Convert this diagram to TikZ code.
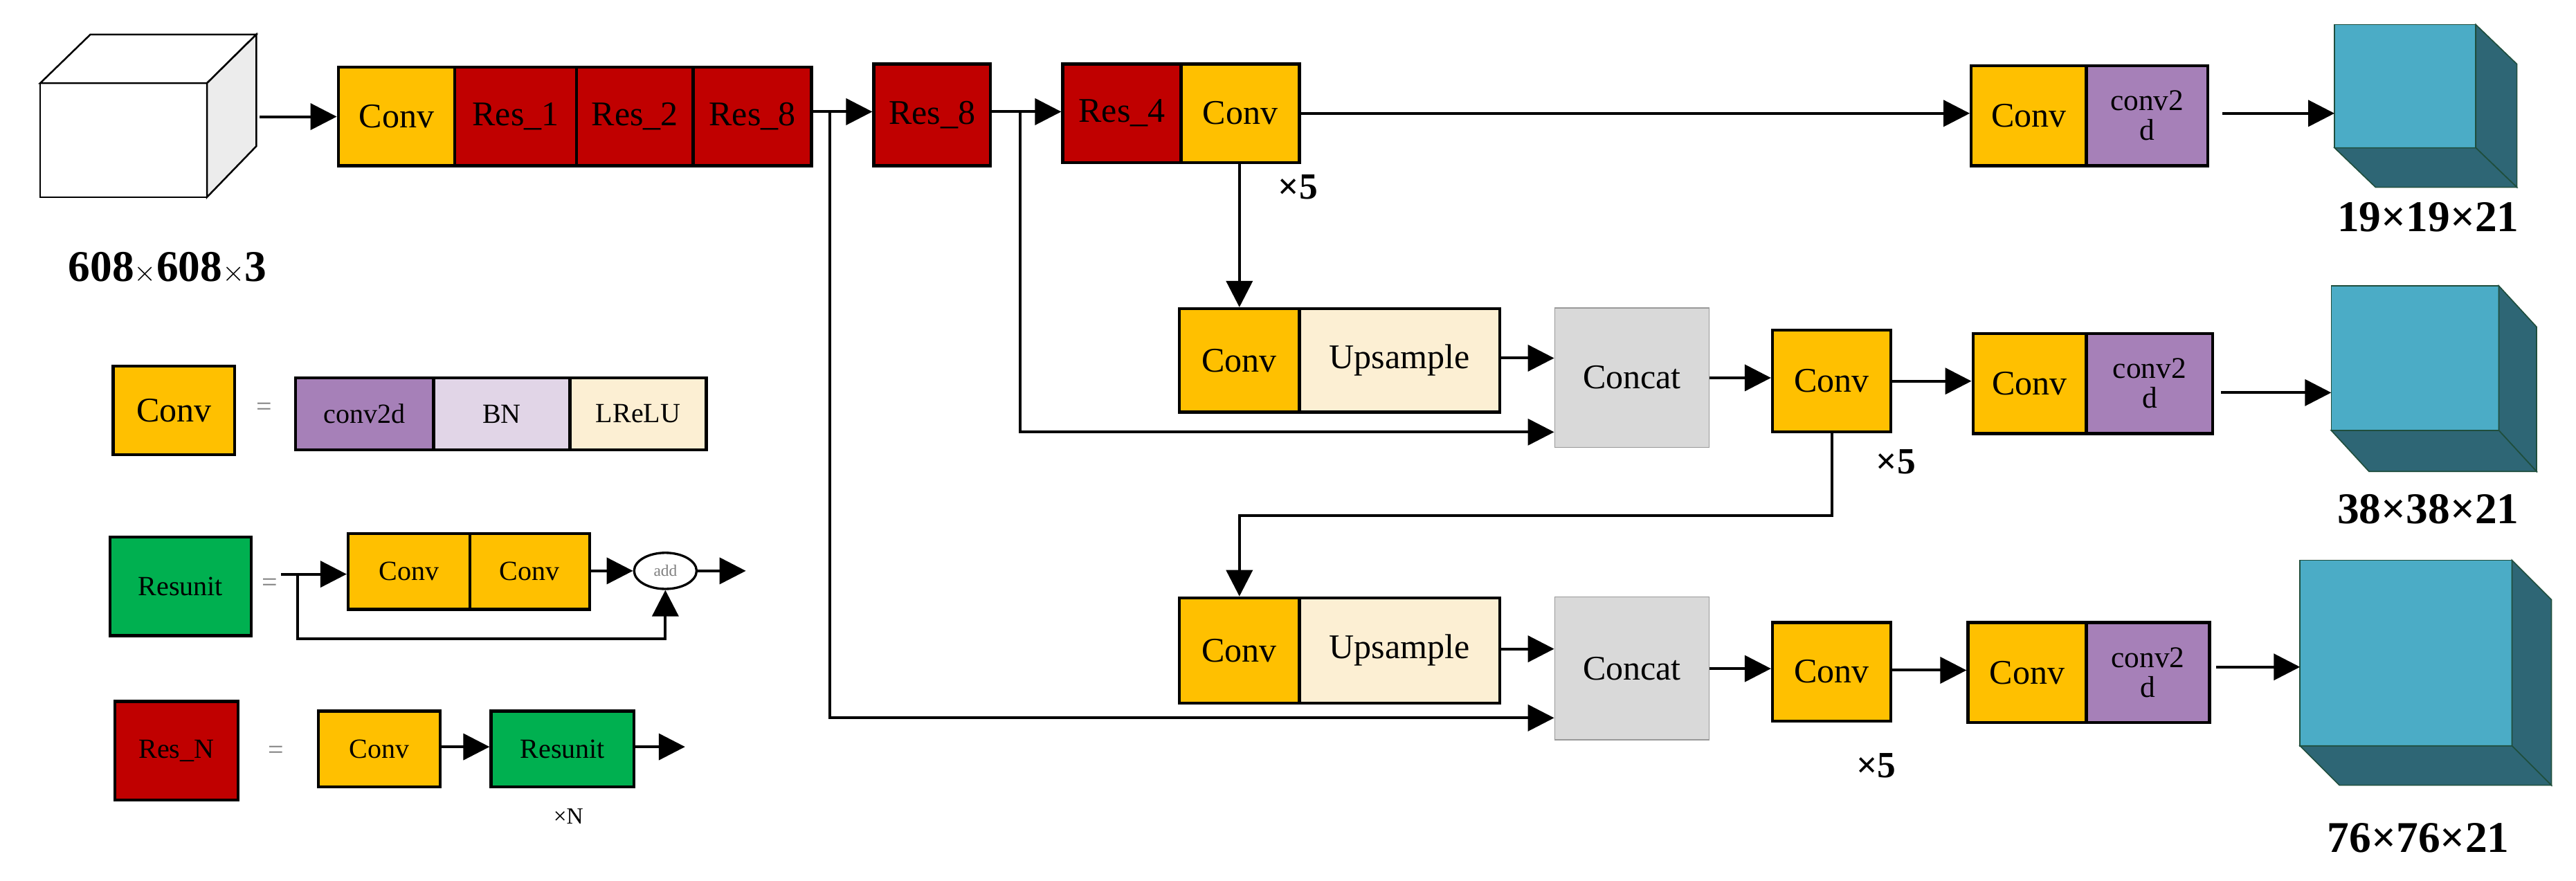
\documentclass[tikz,border=0pt]{standalone}
\usepackage{fontspec}
\setmainfont{Liberation Serif}
\usetikzlibrary{arrows.meta,shapes.geometric}
\definecolor{cConv}{HTML}{FFC000}
\definecolor{cRes}{HTML}{C00000}
\definecolor{cGreen}{HTML}{00B050}
\definecolor{cPur}{HTML}{A680B8}
\definecolor{cBN}{HTML}{E1D5E7}
\definecolor{cLR}{HTML}{FCEFD3}
\definecolor{cCat}{HTML}{D9D9D9}
\definecolor{cCube}{HTML}{4BACC6}
\definecolor{cCubeD}{HTML}{2E6675}
\definecolor{cEdge}{HTML}{1F4E3D}
\begin{document}
\begin{tikzpicture}[x=0.5mm,y=-0.5mm,
  rect/.style n args={4}{anchor=north west, at={(#1,#2)}, minimum width=#3*0.5mm, minimum height=#4*0.5mm},
  blk/.style={draw, line width=2.6pt, inner sep=0pt, font=\fontsize{30}{32}\selectfont},
  small/.style={font=\fontsize{24}{26}\selectfont},
  two/.style={align=center, font=\fontsize{26}{26}\selectfont},
  arr/.style={line width=2.4pt, -{Triangle[length=8mm,width=8mm]}},
  ln/.style={line width=2.4pt},
  lab/.style={font=\bfseries\fontsize{38}{40}\selectfont},
  times/.style={font=\bfseries\fontsize{32}{34}\selectfont},
  cube/.style={draw=cEdge, line width=1pt}]
\useasboundingbox (0,0) rectangle (1568,536);
% input cube
\draw[line width=1.5pt, fill=white] (24.5,50.6) rectangle (126,120);
\draw[line width=1.5pt, fill=white] (24.5,50.6) -- (55,21) -- (156,21) -- (126,50.6) -- cycle;
\draw[line width=1.5pt, fill=gray!15] (126,50.6) -- (156,21) -- (156,89) -- (126,120) -- cycle;
\coordinate (cin) at (158,71);
\node[lab] (l0) at (102,163) {608$\times$608$\times$3};
% backbone
\node[blk, fill=cConv, rect={205}{40}{71}{60}] (c1) {Conv};
\node[blk, fill=cRes, rect={276}{40}{74}{60}] (r1) {Res\_1};
\node[blk, fill=cRes, rect={350}{40}{71}{60}] (r2) {Res\_2};
\node[blk, fill=cRes, rect={421}{40}{72}{60}] (r8) {Res\_8};
\node[blk, fill=cRes, rect={531}{38}{71}{62}] (r8b) {Res\_8};
\node[blk, fill=cRes, rect={646}{38}{72}{60}] (r4) {Res\_4};
\node[blk, fill=cConv, rect={718}{38}{72}{60}] (ct) {Conv};
\draw[arr] (cin) -- (c1.west |- cin);
\draw[arr] (r8.east |- 0,68) -- (r8b.west |- 0,68);
\draw[arr] (r8b.east |- 0,68) -- (r4.west |- 0,68);
\coordinate (b1) at (505,68);
\coordinate (b2) at (621,68);
% output branch 1
\node[blk, fill=cConv, rect={1199}{39}{70}{61}] (o1a) {Conv};
\node[blk, fill=cPur, rect={1269}{39}{74}{61}, two] (o1b) {conv2\\d};
\draw[arr] (ct.east |- 0,69) -- (o1a.west |- 0,69);
\node[times] (x1) at (790,114) {×5};
% middle branch
\node[blk, fill=cConv, rect={717}{187}{73}{63}] (cu1) {Conv};
\node[blk, fill=cLR, rect={790}{187}{122}{63}] (up1) {Upsample};
\node[blk, draw=gray!80, line width=1pt, fill=cCat, rect={946}{187}{94}{85}] (cat1) {Concat};
\node[blk, fill=cConv, rect={1078}{200}{72}{62}] (m1) {Conv};
\node[blk, fill=cConv, rect={1200}{202}{69}{61}] (o2a) {Conv};
\node[blk, fill=cPur, rect={1269}{202}{77}{61}, two] (o2b) {conv2\\d};
\node[times] (x2) at (1154,281) {×5};
\draw[arr] (ct.south -| cu1.north) -- (cu1.north);
\draw[arr] (up1.east |- 0,218) -- (cat1.west |- 0,218);
\coordinate (k1) at (946,263);
\draw[arr] (b2) |- (k1);
\draw[arr] (cat1.east |- 0,230) -- (m1.west |- 0,230);
\draw[arr] (m1.east |- 0,232) -- (o2a.west |- 0,232);
% bottom branch
\node[blk, fill=cConv, rect={717}{363}{73}{64}] (cu2) {Conv};
\node[blk, fill=cLR, rect={790}{363}{122}{64}] (up2) {Upsample};
\node[blk, draw=gray!80, line width=1pt, fill=cCat, rect={946}{363}{94}{87}] (cat2) {Concat};
\node[blk, fill=cConv, rect={1078}{378}{72}{60}] (m2) {Conv};
\node[blk, fill=cConv, rect={1197}{378}{72}{61}] (o3a) {Conv};
\node[blk, fill=cPur, rect={1269}{378}{75}{61}, two] (o3b) {conv2\\d};
\node[times] (x3) at (1142,466) {×5};
\draw[arr] (m1.south) -- ++(0,50) -| (cu2.north);
\draw[arr] (up2.east |- 0,395) -- (cat2.west |- 0,395);
\coordinate (k2) at (946,437);
\draw[arr] (b1) |- (k2);
\draw[arr] (cat2.east |- 0,407) -- (m2.west |- 0,407);
\draw[arr] (m2.east |- 0,408) -- (o3a.west |- 0,408);
% cubes
\foreach \xa/\ya/\xb/\yb/\dx/\dy/\nm in {1421/15/1507/90/25/24/q1, 1419/174/1521/262/23/25/q2, 1400/341/1529/454/24/24/q3}{
  \fill[cCube, cube] (\xa,\ya) rectangle (\xb,\yb);
  \fill[cCubeD, cube] (\xb,\ya) -- (\xb+\dx,\ya+\dy) -- (\xb+\dx,\yb+\dy) -- (\xb,\yb) -- cycle;
  \fill[cCubeD, cube] (\xa,\yb) -- (\xb,\yb) -- (\xb+\dx,\yb+\dy) -- (\xa+\dx,\yb+\dy) -- cycle;
  \coordinate (\nm) at (\xa,0);
}
\draw[arr] (o1b.east |- 0,69) ++(8,0) -- (q1 |- 0,69);
\draw[arr] (o2b.east |- 0,239) ++(4,0) -- (q2 |- 0,239);
\draw[arr] (o3b.east |- 0,406) ++(3,0) -- (q3 |- 0,406);
\node[lab] (lq1) at (1478,132) {19×19×21};
\node[lab] (lq2) at (1478,310) {38×38×21};
\node[lab] (lq3) at (1472,510) {76×76×21};
% legend
\node[blk, fill=cConv, rect={68}{222}{74}{54}] (lc) {Conv};
\node[small, text=gray] (le1) at (161,249) {=};
\node[blk, fill=cPur, rect={179}{229}{84}{44}, small] (lc1) {conv2d};
\node[blk, fill=cBN, rect={263}{229}{83}{44}, small] (lc2) {BN};
\node[blk, fill=cLR, rect={346}{229}{83}{44}, small] (lc3) {LReLU};
\node[blk, fill=cGreen, rect={66}{326}{86}{60}, small] (lr) {Resunit};
\node[small, text=gray] (le2) at (164,356) {=};
\node[blk, fill=cConv, rect={211}{324}{74}{46}, small] (rc1) {Conv};
\node[blk, fill=cConv, rect={285}{324}{73}{46}, small] (rc2) {Conv};
\node[draw, ellipse, line width=2pt, fill=white, minimum width=38*0.5mm, minimum height=22*0.5mm, inner sep=0pt, text=gray, font=\fontsize{14}{14}\selectfont] (add) at (405,347.5) {add};
\coordinate (rs) at (171,349.5);
\coordinate (rsb) at (181,349.5);
\coordinate (rout) at (454,347.5);
\draw[arr] (rs) -- (rc1.west |- rs);
\draw[arr] (rc2.east |- add) -- (add);
\draw[arr] (add) -- (rout);
\draw[ln, -{Triangle[length=8mm,width=8mm]}] (rsb) |- (220,389) -| (add.south);
\node[blk, fill=cRes, rect={69}{426}{75}{60}, small] (ln) {Res\_N};
\node[small, text=gray] (le3) at (168,458) {=};
\node[blk, fill=cConv, rect={193}{432}{74}{46}, small] (nc) {Conv};
\node[blk, fill=cGreen, rect={298}{432}{87}{46}, small] (nr) {Resunit};
\coordinate (nout) at (417,454.6);
\draw[arr] (nc.east |- 0,454.6) -- (nr.west |- 0,454.6);
\draw[arr] (nr.east |- nout) -- (nout);
\node[font=\fontsize{20}{20}\selectfont] (xn) at (346,497) {×N};
\end{tikzpicture}
\end{document}
